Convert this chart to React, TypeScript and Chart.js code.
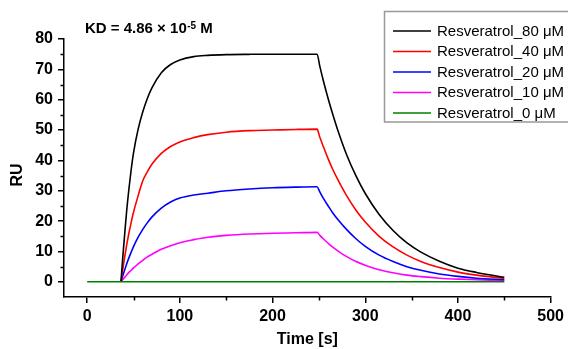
import React, { useEffect, useRef } from "react";
import { Chart, registerables } from "chart.js";

Chart.register(...registerables);

const FONT = "'Liberation Sans', Arial, Helvetica, sans-serif";

// Sampled times (s) shared by the four concentration curves
const TIME = [36.5, 38, 40, 42.5, 45, 47.5, 50, 55, 60, 65, 70, 80, 90, 100, 115, 130, 150, 175, 200, 225, 248,
  251, 255, 260, 265, 270, 280, 290, 300, 315, 330, 345, 360, 380, 400, 420, 450];

const RU_80 = [0, 6.5, 14, 23, 30.5, 37, 42.5, 50.3, 56, 60.5, 64, 68.9, 71.6, 73.1, 74.2, 74.6, 74.85, 74.95, 75, 75, 75,
  71.0, 66.0, 60.3, 55.1, 50.3, 41.8, 34.9, 29.1, 22.2, 16.9, 12.8, 9.8, 6.8, 4.5, 3.1, 1.5];
const RU_40 = [0, 3.3, 7.3, 11.9, 16.0, 19.6, 22.9, 28.4, 33.3, 36.3, 38.8, 42.3, 44.6, 46.1, 47.5, 48.5, 49.3, 49.8, 50.0, 50.2, 50.3,
  47.6, 44.4, 40.5, 37.0, 33.9, 28.3, 23.6, 19.7, 15.0, 11.5, 8.8, 6.7, 4.7, 3.2, 2.2, 1.1];
const RU_20 = [0, 1.6, 3.5, 5.8, 7.9, 9.8, 11.6, 14.7, 17.3, 19.5, 21.4, 24.3, 26.3, 27.6, 28.6, 29.2, 30.0, 30.6, 31.0, 31.2, 31.3,
  29.6, 27.4, 25.0, 22.7, 20.7, 17.2, 14.2, 11.7, 8.8, 6.7, 5.0, 3.8, 2.6, 1.8, 1.2, 0.7];
const RU_10 = [0, 0.6, 1.3, 2.2, 3.1, 3.8, 4.6, 5.9, 7.1, 8.2, 9.1, 10.7, 11.9, 12.9, 13.9, 14.7, 15.3, 15.75, 16.0, 16.15, 16.3,
  15.3, 14.1, 12.7, 11.4, 10.3, 8.3, 6.7, 5.5, 4.0, 3.0, 2.2, 1.7, 1.2, 0.9, 0.7, 0.4];
const TIME_0 = [0, 450];
const RU_0 = [0, 0];

const LABELS = ["Resveratrol_80 μM", "Resveratrol_40 μM", "Resveratrol_20 μM", "Resveratrol_10 μM", "Resveratrol_0 μM"];
const COLORS = ["#000000", "#ff0000", "#0000ff", "#ff00ff", "#008000"];

const X_TICKS = [0, 100, 200, 300, 400, 500];
const X_MINOR = [50, 150, 250, 350, 450];
const Y_TICKS = [0, 10, 20, 30, 40, 50, 60, 70, 80];
const Y_MINOR = [5, 15, 25, 35, 45, 55, 65, 75];

const KD_MAIN = "KD = 4.86 × 10";
const KD_EXP = "-5";
const KD_UNIT = " M";
const X_TITLE = "Time [s]";
const Y_TITLE = "RU";

const pts = (xs: number[], ys: number[]) => xs.map((x, i) => ({ x, y: ys[i] }));

const decor = {
  id: "decor",
  afterDraw(chart: any) {
    const ctx = chart.ctx;
    const xs = chart.scales.x;
    const ys = chart.scales.y;
    const area = chart.chartArea;
    ctx.save();
    // minor ticks
    ctx.strokeStyle = "#000";
    ctx.lineWidth = 1.5;
    for (const v of X_MINOR) {
      const px = Math.round(xs.getPixelForValue(v)) + 0.5;
      ctx.beginPath();
      ctx.moveTo(px, area.bottom);
      ctx.lineTo(px, area.bottom + 3.5);
      ctx.stroke();
    }
    for (const v of Y_MINOR) {
      const py = Math.round(ys.getPixelForValue(v)) + 0.5;
      ctx.beginPath();
      ctx.moveTo(area.left, py);
      ctx.lineTo(area.left - 3.5, py);
      ctx.stroke();
    }
    // axis titles
    ctx.fillStyle = "#000";
    ctx.font = `bold 16px ${FONT}`;
    ctx.textAlign = "center";
    ctx.textBaseline = "middle";
    ctx.fillText(X_TITLE, (area.left + area.right) / 2, 340);
    ctx.save();
    ctx.translate(18, 175);
    ctx.rotate(-Math.PI / 2);
    ctx.fillText(Y_TITLE, 0, 0);
    ctx.restore();
    // KD annotation
    ctx.textAlign = "left";
    ctx.textBaseline = "alphabetic";
    let x = 85;
    const by = 32.5;
    ctx.font = `bold 15px ${FONT}`;
    ctx.fillText(KD_MAIN, x, by);
    x += ctx.measureText(KD_MAIN).width + 0.5;
    ctx.font = `bold 10px ${FONT}`;
    ctx.fillText(KD_EXP, x, by - 3.5);
    x += ctx.measureText(KD_EXP).width;
    ctx.font = `bold 15px ${FONT}`;
    ctx.fillText(KD_UNIT, x, by);
    // legend
    ctx.strokeStyle = "#999";
    ctx.lineWidth = 1.5;
    ctx.strokeRect(384.5, 11.5, 200, 110.5);
    ctx.font = `15px ${FONT}`;
    ctx.textBaseline = "middle";
    const rows = [31, 51.5, 72, 92.5, 113];
    chart.data.datasets.forEach((ds: any, i: number) => {
      const y = rows[i];
      ctx.strokeStyle = ds.borderColor;
      ctx.lineWidth = 1.5;
      ctx.beginPath();
      ctx.moveTo(393, y);
      ctx.lineTo(431, y);
      ctx.stroke();
      ctx.fillStyle = "#000";
      ctx.fillText(ds.label, 437, y + 0.5);
    });
    ctx.restore();
  },
};

export default function App() {
  const ref = useRef<HTMLCanvasElement | null>(null);
  useEffect(() => {
    if (!ref.current) return;
    const series = [pts(TIME, RU_80), pts(TIME, RU_40), pts(TIME, RU_20), pts(TIME, RU_10), pts(TIME_0, RU_0)];
    const chart = new Chart(ref.current, {
      type: "line",
      data: {
        datasets: series.map((d, i) => ({
          label: LABELS[i],
          data: d,
          borderColor: COLORS[i],
          backgroundColor: COLORS[i],
          borderWidth: 1.6,
          pointRadius: 0,
          cubicInterpolationMode: "monotone" as const,
          fill: false,
          order: i === 4 ? 0 : 1,
        })),
      },
      options: {
        responsive: false,
        animation: false,
        layout: { padding: { top: 39, right: 15, left: 0, bottom: 0 } },
        plugins: { legend: { display: false }, tooltip: { enabled: false } },
        scales: {
          x: {
            type: "linear",
            min: -25,
            max: 500,
            afterBuildTicks: (s: any) => { s.ticks = X_TICKS.map((v) => ({ value: v })); },
            afterFit: (s: any) => { s.height = 52; },
            grid: { drawOnChartArea: false, drawTicks: true, tickLength: 6, color: "#000", lineWidth: 1.5 },
            border: { display: true, color: "#000", width: 1.5 },
            ticks: { color: "#000", font: { family: FONT, size: 16, weight: "bold" }, padding: 4, maxRotation: 0 },
          },
          y: {
            type: "linear",
            min: -5,
            max: 80,
            afterBuildTicks: (s: any) => { s.ticks = Y_TICKS.map((v) => ({ value: v })); },
            afterFit: (s: any) => { s.width = 64; },
            grid: { drawOnChartArea: false, drawTicks: true, tickLength: 6, color: "#000", lineWidth: 1.5 },
            border: { display: true, color: "#000", width: 1.5 },
            ticks: { color: "#000", font: { family: FONT, size: 16, weight: "bold" }, padding: 5 },
          },
        },
      },
      plugins: [decor],
    });
    return () => chart.destroy();
  }, []);
  return (
    <div style={{ position: "fixed", left: 0, top: 0, width: 568, height: 349, background: "#fff" }}>
      <canvas ref={ref} width={568} height={349} style={{ display: "block" }} />
    </div>
  );
}
